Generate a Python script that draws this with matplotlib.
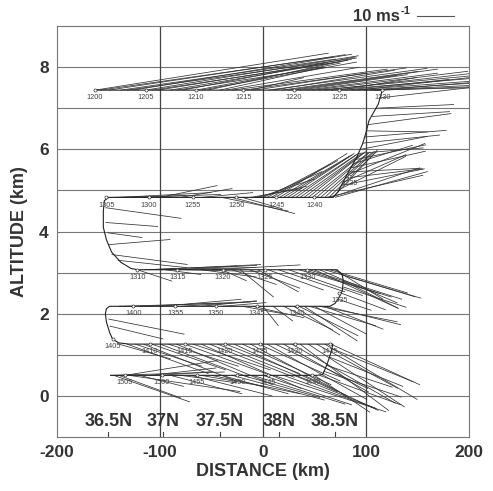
import matplotlib
matplotlib.use("Agg")
import matplotlib.pyplot as plt
import numpy as np
from matplotlib.collections import LineCollection

plt.rcParams["font.family"] = ["Liberation Sans", "DejaVu Sans"]
plt.rcParams["axes.unicode_minus"] = False

# scale of the wind vectors: km of distance / km of altitude per m/s
SX = 3.6
SZ = 0.09

# flight track (distance km, altitude km)
track_x = [-163, 116, 112, 103, 100, 97, 91, 83, 73, 68, -150, -154, -155, -155, -152,
           -147, -138, -128, -122, 72, 77, 78, 77, 74, 70, 65, -149, -152, -153, -152,
           -149, -146, -140, -130, 68, 66, 62, 58, 52, -148]
track_z = [7.44, 7.44, 7.1, 6.7, 6.4, 6.15, 5.8, 5.45, 4.97, 4.83, 4.83, 4.75, 4.5, 4.1, 3.8,
           3.5, 3.25, 3.1, 3.07, 3.07, 2.95, 2.8, 2.55, 2.4, 2.25, 2.18, 2.18, 2.12, 2.0, 1.8,
           1.55, 1.38, 1.29, 1.26, 1.26, 1.05, 0.75, 0.52, 0.5, 0.5]

# time marks along the track
time_lbl = ["1200", "1205", "1210", "1215", "1220", "1225", "1230", "1235",
            "1240", "1245", "1250", "1255", "1300", "1305",
            "1310", "1315", "1320", "1325", "1330", "1335",
            "1340", "1345", "1350", "1355", "1400", "1405",
            "1410", "1415", "1420", "1425", "1430", "1435",
            "1440", "1445", "1450", "1455", "1500", "1505"]
time_x = [-163, -114, -65, -19, 30, 74, 116, 84,
          50, 13, -26, -68, -111, -152,
          -122, -83, -39, 2, 43, 74,
          33, -6, -46, -85, -126, -146,
          -110, -76, -37, -3, 31, 65,
          48, 5, -25, -64, -98, -134]
time_z = [7.44, 7.44, 7.44, 7.44, 7.44, 7.44, 7.44, 5.35,
          4.83, 4.83, 4.83, 4.83, 4.83, 4.83,
          3.07, 3.07, 3.07, 3.07, 3.07, 2.5,
          2.18, 2.18, 2.18, 2.18, 2.18, 1.38,
          1.26, 1.26, 1.26, 1.26, 1.26, 1.26,
          0.5, 0.5, 0.5, 0.5, 0.5, 0.5]

# leg at 7.44 km (1200-1230)
a_z = 7.44
a_x = [-163, -158, -150, -138, -132, -126, -114, -108, -102, -90, -84, -78, -65, -60,
       -54, -42, -36, -30, -19, -12, -8, 5, 10, 18, 24, 30, 36, 42, 48, 54, 60, 66,
       74, 80, 86, 92, 98, 104, 108, 112, 116]
a_u = [63, 63, 64, 58, 62, 59, 57.5, 51, 45, 48, 40.5, 46.7, 39, 42,
       39, 28, 36, 42, 44, 14.4, 30, 43, 32.8, 37, 40.5, 28, 29, 35.5, 42, 49, 50, 48,
       21, 28, 45.5, 41, 45, 29.4, 36.7, 35.5, 31.7]
a_v = [10, 9, 9.6, 8.4, 8.7, 9.7, 9.3, 7.7, 7.3, 8.1, 6.2, 9, 7.3, 7.6,
       8.4, 6.2, 6.2, 5.7, 6, 3.4, 4.6, 5.9, 5.4, 5.1, 5.7, 4, 4.2, 4.6, 5.1, 4.6, 5.7, 4,
       3.4, 2.9, 3.4, 4.6, 2.9, 0.7, 1.8, 2.9, 1.2]

# descent 1230-1235
ab_x = [113, 110, 106, 102, 100, 99, 97, 95, 93, 90, 88, 86, 84, 82, 80, 78, 76, 74]
ab_z = [7.25, 7.0, 6.8, 6.6, 6.45, 6.3, 6.15, 6.0, 5.9, 5.75, 5.65, 5.55, 5.45, 5.38,
        5.3, 5.2, 5.12, 5.02]
ab_u = [28, 21, 21, 22.5, 16.7, 22, 20.8, 18, 17.5, 19, 16, 20, 19.5, 21, 21, 17, 22.5, 18]
ab_v = [3.2, 1.0, 1.3, 3.0, -0.3, 1.8, 2.2, 3.5, 1.5, 4.0, 5.0, 4.5, 1.0, 8.5, 2.5, 7.5,
        4.5, 9.0]

# leg at 4.83 km (1235-1305)
b_z = 4.83
b_x = [70, 68, 66, 64, 62, 60, 56, 52, 48, 44, 40, 36, 32, 28, 24, 20, 16, 12, 8, 4, 0,
       -4, -8, -12, -20, -30, -40, -60, -80, -100, -120, -140, -150]
b_u = [25, 12, 24, 13, 26, 13.5, 14, 14.5, 15, 15.5, 16, 16.5, 17, 17.5, 18, 18.5, 19,
       19.4, 18, 17, 16, 15, 14, 13.9, 10.8, 17, 18, 14, 14, 15.5, 22, 25, 21]
b_v = [7, 12.8, 8, 12.5, 6, 12.5, 12.2, 12.3, 12, 12.4, 12, 11.8, 12, 11.6, 11.9, 11.5,
       11.2, 11.9, 10, 9, 7, 5, 3, 2.4, -3.1, -4.4, -3.7, 1.3, 2.4, 3.2, 0.8, 1.3, 0.5]

# descent 1305-1310
bc_x = [-153, -153, -151, -150, -147, -141]
bc_z = [4.58, 4.22, 3.97, 3.68, 3.44, 3.3]
bc_u = [20.5, 14.2, 9.4, 16.7, 20.5, 18.6]
bc_v = [-2.9, -1.1, -1.3, 1.4, -2.7, -2.0]

# leg at 3.07 km (1310-1330)
c_z = 3.07
c_x = [-122, -115, -110, -100, -95, -85, -75, -60, -50, -40, -30, -22, -13, -5, 5, 15,
       25, 35, 40, 45, 50, 55, 60, 65, 70]
c_u = [9.4, 25, 30, 26, 9.7, 22, 20, 15, 24, 6.7, 12, 9, 13.6, 11, 15, 18, 20,
       22, 23.6, 25, 22.5, 21, 26, 21, 13]
c_v = [-3.1, 1.0, 1.4, 0.6, -1.3, 1.2, -0.5, -2, 1.3, -3, -4, -7.4, -5, -6, -5.5, -6,
       -7, -6.5, -7.4, -8, -10.4, -9, -7.7, -6.3, -8]

# descent 1330-1340
cd_x = [76, 78, 78, 76, 73]
cd_z = [2.95, 2.8, 2.65, 2.5, 2.35]
cd_u = [20, 15, 17, 12, 9]
cd_v = [-6, -7.5, -5.5, -4.5, -3]

# leg at 2.18 km (1340-1400)
d_z = 2.18
d_x = [62, 60, 55, 50, 45, 40, 35, 30, 20, 10, 0, -10, -20, -40, -60, -80, -100, -120,
       -140]
d_u = [20, 15.8, 21, 14, 18, 14.4, 16, 12.5, 13.3, 5.3, 4.2, 13.9, 11, 12, 15, 19, 22,
       31.7, 27.8]
d_v = [-5, -6.2, -4.2, -7.5, -5.3, -9.4, -8, -7.8, -6.4, -4, -5.3, -3.1, -2, 1, 1.5,
       1.2, 1.9, 1.3, 0.8]

# descent 1400-1405
de_x = [-150, -149]
de_z = [1.87, 1.7]
de_u = [20.5, 14.5]
de_v = [-4.1, -3.5]

# leg at 1.26 km (1405-1435)
e_z = 1.26
e_x = [-140, -132, -124, -116, -108, -100, -92, -84, -76, -68, -60, -52, -44, -36, -28,
       -20, -12, -4, 4, 12, 20, 28, 36, 44, 52, 60, 66]
e_u = [14, 22, 18, 25, 20, 24, 19, 26, 22, 21, 27, 23, 25, 20, 28, 24, 26, 22, 27, 25,
       23, 28, 24, 26, 22, 25, 24]
e_v = [-4, -8, -6, -10, -7, -9, -6, -11, -8, -7, -12, -9, -10, -8, -13, -11, -14, -10,
       -15, -12, -13, -16, -18, -17, -12, -15, -11]

# descent 1435-1440
ef_x = [67, 64, 61, 59]
ef_z = [1.15, 0.95, 0.75, 0.6]
ef_u = [22, 20, 18, 21]
ef_v = [-9, -8, -6, -7]

# leg at 0.5 km (1440-1505)
f_z = 0.5
f_x = [55, 50, 40, 30, 20, 10, 0, -10, -20, -30, -40, -50, -60, -70, -80, -90, -100,
       -110, -120, -130, -134, -140, -145, -148]
f_u = [22, 15, 20, 22, 25, 30.5, 24, 25, 21, 25, 18, 24, 17, 22, 15, 19.4, 14, 18, 12,
       30, 25, 16.7, 20.6, 30.8]
f_v = [-8, -10, -9.5, -8.9, -9, -9.9, -8, -7.8, -6, -6.7, -5, -5, -3, -5.6, -2, -5, 1,
       2, -3, -4.4, 4, -6.1, -7.2, 0.9]

lat_lbl = ["36.5N", "37N", "37.5N", "38N", "38.5N"]
lat_x = [-150, -97, -42, 16, 70]


def segments(xs, zs, us, vs):
    xs = np.asarray(xs, float)
    zs = np.broadcast_to(np.asarray(zs, float), xs.shape)
    us = np.asarray(us, float)
    vs = np.asarray(vs, float)
    return [((x, z), (x + u * SX, z + v * SZ)) for x, z, u, v in zip(xs, zs, us, vs)]


segs = []
segs += segments(a_x, a_z, a_u, a_v)
segs += segments(ab_x, ab_z, ab_u, ab_v)
segs += segments(b_x, b_z, b_u, b_v)
segs += segments(bc_x, bc_z, bc_u, bc_v)
segs += segments(c_x, c_z, c_u, c_v)
segs += segments(cd_x, cd_z, cd_u, cd_v)
segs += segments(d_x, d_z, d_u, d_v)
segs += segments(de_x, de_z, de_u, de_v)
segs += segments(e_x, e_z, e_u, e_v)
segs += segments(ef_x, ef_z, ef_u, ef_v)
segs += segments(f_x, f_z, f_u, f_v)

fig = plt.figure(figsize=(4.93, 4.91), dpi=100)
ax = fig.add_axes([0.1156, 0.11, 0.8355, 0.837])

ax.set_xlim(-200, 200)
ax.set_ylim(-1, 9)

for z in range(0, 9):
    ax.axhline(z, color="#777777", lw=0.8, zorder=1)
for x in (-100, 0, 100):
    ax.axvline(x, color="#444444", lw=0.9, zorder=1)

ax.add_collection(LineCollection(segs, colors="#333333", linewidths=0.55, zorder=3))
ax.plot(track_x, track_z, color="#222222", lw=0.8, zorder=4)
ax.plot(time_x, time_z, "o", ms=2.2, mfc="white", mec="#333333", mew=0.5, ls="none",
        zorder=5)
for t, x, z in zip(time_lbl, time_x, time_z):
    ax.text(x, z - 0.1, t, fontsize=5.3, color="#444444", ha="center", va="top", zorder=6)

for lbl, x in zip(lat_lbl, lat_x):
    ax.plot([x, x], [-1, -0.88], color="#444444", lw=0.8)
    ax.text(x, -0.63, lbl, fontsize=13, fontweight="bold", color="#333333",
            ha="center", va="center")

ax.set_xticks([-200, -100, 0, 100, 200])
ax.set_yticks([0, 2, 4, 6, 8])
ax.tick_params(length=0, labelsize=12.5, labelcolor="#333333", pad=6)
for lab in ax.get_xticklabels() + ax.get_yticklabels():
    lab.set_fontweight("bold")
ax.set_xlabel("DISTANCE (km)", fontsize=13, fontweight="bold", color="#333333",
              labelpad=2)
ax.set_ylabel("ALTITUDE (km)", fontsize=13, fontweight="bold", color="#333333",
              labelpad=8)
for s in ax.spines.values():
    s.set_color("#777777")
    s.set_linewidth(0.8)

# 10 m/s reference vector
ax.plot([150, 150 + 10 * SX], [9.24, 9.24], color="#555555", lw=0.8, clip_on=False)
ax.text(133, 9.24, "10 ms", fontsize=12, fontweight="bold", color="#333333",
        ha="right", va="center")
ax.text(133.5, 9.36, "-1", fontsize=8, fontweight="bold", color="#333333",
        ha="left", va="center")

fig.savefig("out.png", dpi=100)
